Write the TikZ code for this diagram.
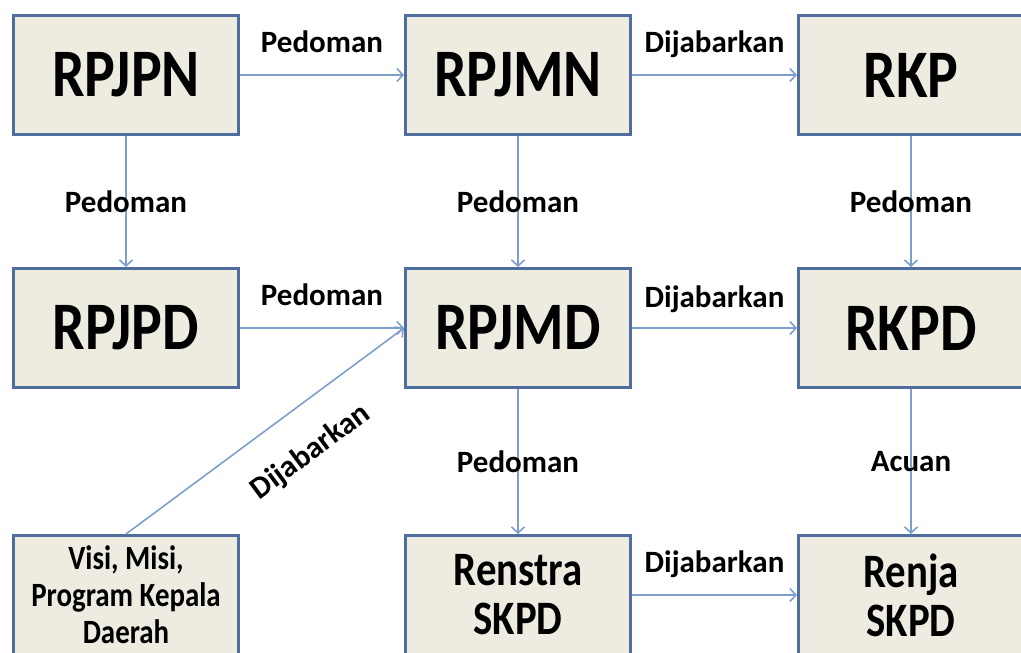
\documentclass[tikz,border=0pt]{standalone}
\usepackage{fontspec}
\setmainfont{Carlito}
\newfontfamily\boxfont[FakeStretch=0.85]{Carlito}
\usetikzlibrary{arrows.meta}
\definecolor{boxfill}{HTML}{EEECE1}
\definecolor{boxline}{HTML}{4F6E9E}
\definecolor{linkline}{HTML}{7E9FCC}

\begin{document}
\begin{tikzpicture}[
        x=1pt,
        y=-1pt,
        >={Straight Barb[length=6pt,width=13pt]},
        line width=1.6pt,
        every edge/.append style={draw=linkline, ->},
        doc/.style={draw=boxline, line width=3pt, fill=boxfill, minimum width=225pt,
            minimum height=119pt, inner sep=0pt, align=center},
        bigdoc/.style={doc, font=\boxfont\bfseries\fontsize{68}{68}\selectfont},
        middoc/.style={doc, font=\boxfont\bfseries\fontsize{48}{49}\selectfont},
        smalldoc/.style={doc, font=\boxfont\bfseries\fontsize{34}{37}\selectfont},
        rel/.style={font=\bfseries\fontsize{31}{31}\selectfont, inner sep=0pt, text depth=0pt}
    ]
    \useasboundingbox (0,0) rectangle (1021,653);

    \node[bigdoc] (rpjpn) at (126,75) {RPJPN};
    \node[bigdoc] (rpjmn) at (518,75) {RPJMN};
    \node[bigdoc] (rkp) at (911,75) {RKP};
    \node[bigdoc] (rpjpd) at (126,328) {RPJPD};
    \node[bigdoc] (rpjmd) at (518,328) {RPJMD};
    \node[bigdoc] (rkpd) at (911,328) {RKPD};
    \node[smalldoc] (visi) at (126,595) {Visi, Misi,\\Program Kepala\\Daerah};
    \node[middoc] (renstra) at (518,595) {Renstra\\SKPD};
    \node[middoc] (renja) at (911,595) {Renja\\SKPD};

    % rows
    \draw (rpjpn) edge node[rel, above=22pt]{Pedoman} (rpjmn);
    \draw (rpjmn) edge node[rel, above=22pt]{Dijabarkan} (rkp);
    \draw (rpjpd) edge node[rel, above=22pt]{Pedoman} (rpjmd);
    \draw (rpjmd) edge node[rel, above=20pt]{Dijabarkan} (rkpd);
    \draw (renstra) edge node[rel, above=22pt]{Dijabarkan} (renja);

    % columns
    \draw (rpjpn) edge node[rel]{Pedoman} (rpjpd);
    \draw (rpjmn) edge node[rel]{Pedoman} (rpjmd);
    \draw (rkp) edge node[rel]{Pedoman} (rkpd);
    \draw (rpjmd) edge node[rel]{Pedoman} (renstra);
    \draw (rkpd) edge node[rel]{Acuan} (renja);

    \draw (visi.north) edge node[rel, sloped, pos=0.57, below=30pt]{Dijabarkan} (rpjmd.west);
\end{tikzpicture}
\end{document}
